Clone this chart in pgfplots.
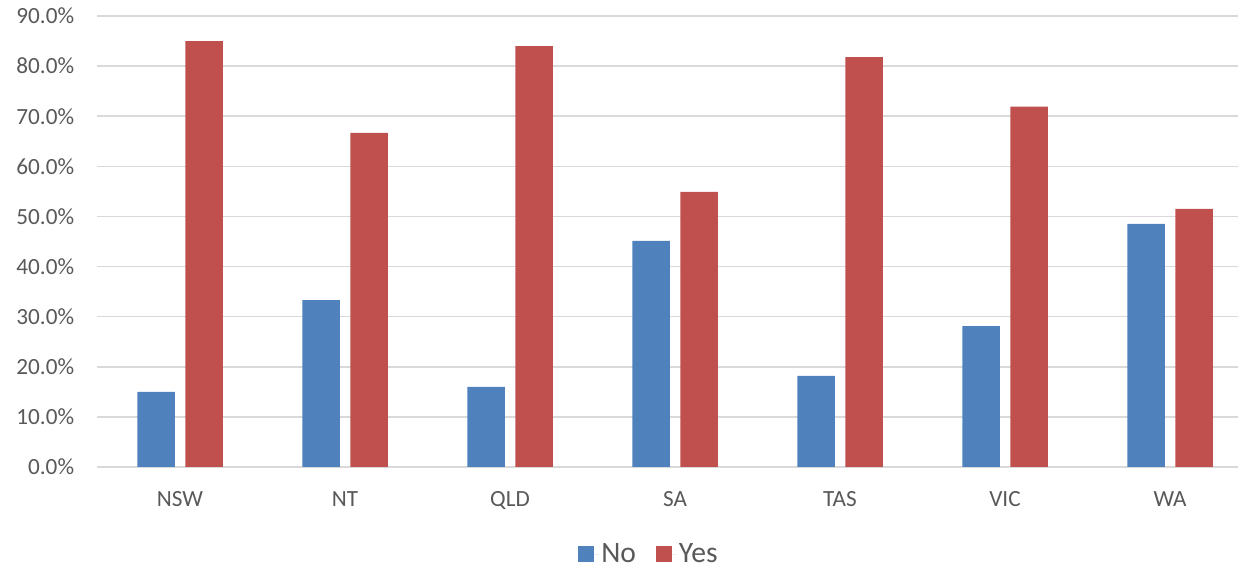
\documentclass[border=0pt]{standalone}
\usepackage{fontspec}
\setmainfont{Carlito}
\usepackage{pgfplots}
\pgfplotsset{compat=1.18}
\definecolor{barblue}{HTML}{4F81BD}
\definecolor{barred}{HTML}{C0504D}
\definecolor{gridgray}{HTML}{D9D9D9}
\definecolor{textgray}{HTML}{595959}
\begin{document}
\begin{tikzpicture}
\path[use as bounding box] (-48.75pt,-50pt) rectangle (570.25pt,233.5pt);
\begin{axis}[
  at={(0,0)}, anchor=south west,
  scale only axis,
  width=570.25pt, height=225.5pt,
  ybar,
  bar width=18.75pt,
  xmin=-0.5, xmax=6.412,
  ymin=0, ymax=90,
  ytick={0,10,...,90},
  xtick={0,...,6},
  xticklabels={NSW,NT,QLD,SA,TAS,VIC,WA},
  axis line style={draw=none},
  major tick length=0pt,
  ymajorgrids,
  grid style={gridgray, line width=0.75pt},
  /pgf/number format/assume math mode=true,
  yticklabel={\pgfmathprintnumber[fixed,fixed zerofill,precision=1]{\tick}\%},
  yticklabel style={font=\fontsize{11.6}{13}\selectfont, text=textgray, anchor=east, inner sep=0pt, xshift=-11.5pt},
  xticklabel style={font=\fontsize{11.6}{13}\selectfont, text=textgray, anchor=base, inner sep=0pt, yshift=-20pt},
  legend columns=2,
  legend style={at={(0.4835,-0.193)}, anchor=center, draw=none, fill=none,
    inner sep=0pt, nodes={inner sep=1pt},
    font=\fontsize{14.8}{16}\selectfont, text=textgray,
    /tikz/every even column/.append style={column sep=9pt}},
  legend image code/.code={\fill[#1] (0pt,-3.75pt) rectangle (8pt,4.25pt); \path (0pt,0pt) -- (10.5pt,0pt);},
]
\addplot[fill=barblue, draw=none, bar shift=-12pt] coordinates {
  (0,15.0) (1,33.3) (2,16.0) (3,45.1) (4,18.2) (5,28.1) (6,48.5)};
\addplot[fill=barred, draw=none, bar shift=12pt] coordinates {
  (0,85.0) (1,66.7) (2,84.0) (3,54.9) (4,81.8) (5,71.9) (6,51.5)};
\legend{No,Yes}
\end{axis}
\end{tikzpicture}
\end{document}
